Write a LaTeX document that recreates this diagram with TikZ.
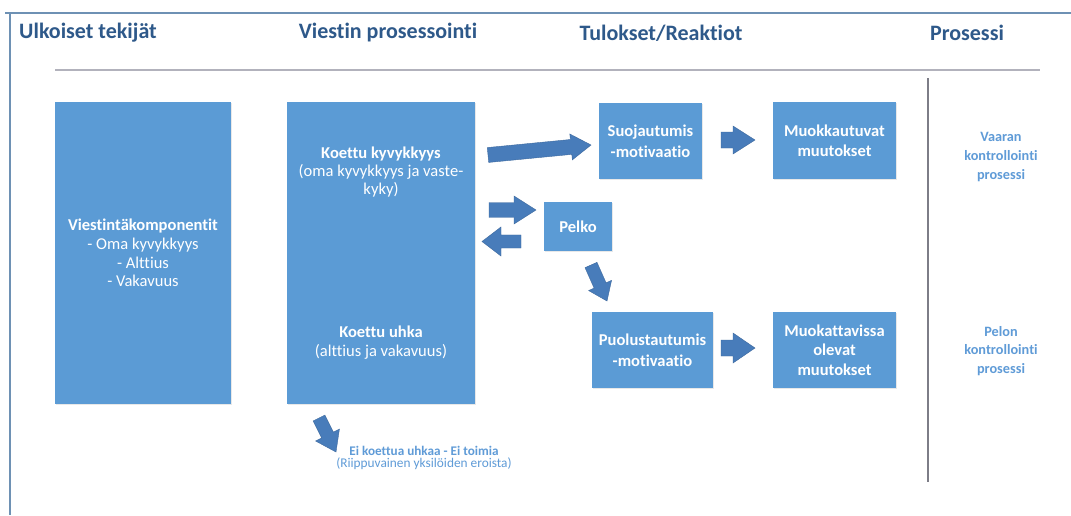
\documentclass[tikz,border=0pt]{standalone}
\usepackage{fontspec}
\setmainfont{Carlito}[Ligatures=NoCommon]
\usetikzlibrary{calc,shadows}
\definecolor{boxblue}{RGB}{91,155,213}
\definecolor{arrowblue}{RGB}{72,124,186}
\definecolor{headblue}{RGB}{46,89,138}
\definecolor{lightblue}{RGB}{95,155,215}
\definecolor{framecol}{RGB}{110,145,180}
\definecolor{sepgray}{RGB}{178,178,188}
\definecolor{vgray}{RGB}{125,125,135}
\tikzset{
  box/.style={fill=boxblue, draw=none, inner sep=0pt, outer sep=0pt,
    drop shadow={opacity=0.18, shadow xshift=1pt, shadow yshift=-1pt}},
  boxtext/.style={text=white, align=center, inner sep=0pt,
    font=\fontsize{12.4}{13.9}\selectfont},
  header/.style={text=headblue, font=\fontsize{16.5}{18}\selectfont\bfseries, inner sep=0pt},
  sidetext/.style={text=lightblue, align=center, inner sep=0pt,
    font=\fontsize{10.7}{13.9}\selectfont\bfseries},
  arrowstyle/.style={fill=arrowblue, draw=arrowblue!85!black, line width=0.3pt}
}
% block arrow from coordinate #1 to #2: shaft half width #3, head half width #4, head length #5
\newcommand{\blockarrow}[5]{%
  \coordinate (bahead) at ($(#2)!#5!(#1)$);
  \filldraw[arrowstyle]
    ($(#1)!#3!90:(#2)$) --
    ($(bahead)!#3!90:(#2)$) --
    ($(bahead)!#4!90:(#2)$) --
    (#2) --
    ($(bahead)!#4!-90:(#2)$) --
    ($(bahead)!#3!-90:(#2)$) --
    ($(#1)!#3!-90:(#2)$) -- cycle;
}
\begin{document}
\begin{tikzpicture}[x=0.75pt, y=-0.75pt]
\useasboundingbox (0,0) rectangle (1071,515);
\fill[white] (0,0) rectangle (1071,515);

% frame
\draw[framecol, line width=1.1pt] (5,13) -- (1071,13);
\draw[framecol, line width=1.1pt] (10,13) -- (10,515);
% separator lines
\draw[sepgray, line width=1.4pt] (55,70) -- (1040,70);
\draw[vgray, line width=0.8pt] (928,78) -- (928,482);

% headers
\node[header] (h1) at (88,33) {Ulkoiset tekijät};
\node[header] (h2) at (388,33) {Viestin prosessointi};
\node[header] (h3) at (661,33) {Tulokset/Reaktiot};
\node[header] (h4) at (967,33) {Prosessi};

% boxes
\node[box, minimum width=132pt, minimum height=226.5pt] (viesti) at (143,253) {};
\node[boxtext] (viestitxt) at (143,253) {\textbf{Viestintäkomponentit}\\- Oma kyvykkyys\\- Alttius\\- Vakavuus};

\node[box, minimum width=141pt, minimum height=226.5pt] (koettu) at (381,253) {};
\node[boxtext, font=\fontsize{12.4}{13.2}\selectfont] (kyky) at (381,172) {\textbf{Koettu kyvykkyys}\\(oma kyvykkyys ja vaste-\\kyky)};
\node[boxtext, font=\fontsize{12.4}{13.9}\selectfont] (uhka) at (381,342.5) {\textbf{Koettu uhka}\\(alttius ja vakavuus)};

\node[box, minimum width=77.25pt, minimum height=57pt] (suoj) at (650.5,141) {};
\node[boxtext, font=\fontsize{12.4}{15.5}\selectfont\bfseries] (suojtxt) at (650.5,141.5) {Suojautumis\\-motivaatio};

\node[box, minimum width=51pt, minimum height=36.75pt] (pelko) at (578,226.5) {};
\node[boxtext, font=\fontsize{12.4}{13}\selectfont\bfseries] (pelkotxt) at (578,226.5) {Pelko};

\node[box, minimum width=92.25pt, minimum height=57.75pt] (muok1) at (834.5,140.5) {};
\node[boxtext, font=\fontsize{12.4}{15}\selectfont\bfseries] (muok1txt) at (834.5,140.5) {Muokkautuvat\\muutokset};

\node[box, minimum width=90.75pt, minimum height=57pt] (puol) at (652.5,350) {};
\node[boxtext, font=\fontsize{12.4}{15.5}\selectfont\bfseries] (puoltxt) at (652.5,350) {Puolustautumis\\-motivaatio};

\node[box, minimum width=92.25pt, minimum height=57pt] (muok2) at (834.5,350) {};
\node[boxtext, font=\fontsize{12.4}{14.5}\selectfont\bfseries] (muok2txt) at (834.5,350) {Muokattavissa\\olevat\\muutokset};

% side texts
\node[sidetext] (vaara) at (1001,157) {Vaaran\\kontrollointi\\prosessi};
\node[sidetext] (pelon) at (1001,351) {Pelon\\kontrollointi\\prosessi};

% bottom text
\node[text=lightblue, align=center, inner sep=0pt, font=\fontsize{10}{8.6}\selectfont] (ei) at (424,458)
  {\textbf{\fontsize{9.9}{8.6}\selectfont Ei koettua uhkaa - Ei toimia}\\(Riippuvainen yksilöiden eroista)};

% arrow end points
\coordinate (a1s) at (488,155);   \coordinate (a1e) at (591,145);
\coordinate (a2s) at (721,140);   \coordinate (a2e) at (755,140);
\coordinate (a3s) at (489,210);   \coordinate (a3e) at (536,210);
\coordinate (a4s) at (521,241.5); \coordinate (a4e) at (482,241.5);
\coordinate (a5s) at (591,265);   \coordinate (a5e) at (607,301);
\coordinate (a6s) at (721,348);   \coordinate (a6e) at (755,348);
\coordinate (a7s) at (319,418);   \coordinate (a7e) at (336,452);

\blockarrow{a1s}{a1e}{5.6pt}{9.75pt}{15pt}
\blockarrow{a2s}{a2e}{6pt}{10.5pt}{16.5pt}
\blockarrow{a3s}{a3e}{5.6pt}{10.5pt}{16.5pt}
\blockarrow{a4s}{a4e}{4.9pt}{10.9pt}{14.25pt}
\blockarrow{a5s}{a5e}{4.9pt}{9.4pt}{12.75pt}
\blockarrow{a6s}{a6e}{6pt}{11.25pt}{16.5pt}
\blockarrow{a7s}{a7e}{4.9pt}{10pt}{14.25pt}
\end{tikzpicture}
\end{document}
